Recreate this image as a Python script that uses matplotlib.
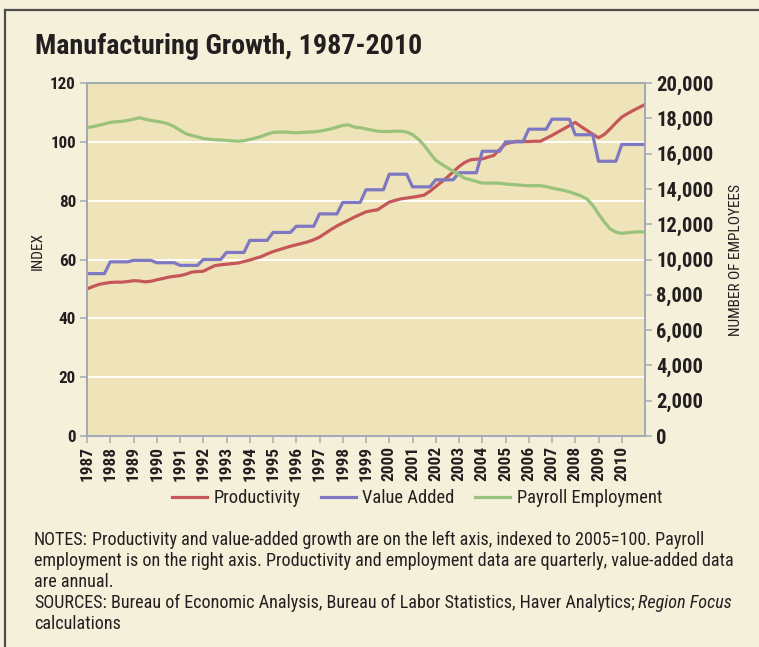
import numpy as np
import matplotlib
matplotlib.use("Agg")
import matplotlib.pyplot as plt
from matplotlib.lines import Line2D
from matplotlib.ticker import FuncFormatter
from matplotlib import font_manager as fm

# ---------------- data ----------------
years = list(range(1987, 2011))
start_year = 1987
quarters_per_year = 4

# Productivity, quarterly 1987Q1 .. 2011Q1 (index, 2005=100)
productivity = [
    50.0, 50.8, 51.5, 51.9,
    52.2, 52.3, 52.3, 52.5,
    52.8, 52.7, 52.4, 52.6,
    53.1, 53.5, 54.0, 54.3,
    54.5, 55.0, 55.7, 55.9,
    56.0, 57.0, 57.9, 58.2,
    58.4, 58.6, 58.8, 59.3,
    59.8, 60.4, 61.0, 61.9,
    62.7, 63.3, 63.9, 64.5,
    65.0, 65.5, 66.0, 66.7,
    67.6, 68.9, 70.2, 71.4,
    72.4, 73.4, 74.4, 75.3,
    76.2, 76.6, 76.9, 78.2,
    79.5, 80.1, 80.6, 80.9,
    81.2, 81.5, 81.9, 83.2,
    84.8, 86.4, 88.0, 89.8,
    91.6, 93.0, 93.9, 94.1,
    94.2, 94.8, 95.4, 97.4,
    99.3, 99.8, 100.2, 100.1,
    100.1, 100.2, 100.2, 101.2,
    102.2, 103.3, 104.4, 105.5,
    106.6, 105.2, 103.9, 102.6,
    101.4, 102.5, 104.4, 106.5,
    108.4, 109.6, 110.7, 111.7,
    112.7,
]

# Value added, annual (index, 2005=100)
value_added_annual = [
    55.2, 59.2, 59.7, 58.9, 58.0, 60.0, 62.4, 66.5, 69.2, 71.3, 75.5, 79.4,
    83.7, 89.0, 84.7, 87.1, 89.5, 96.8, 100.0, 104.3, 107.7, 102.4, 93.4, 99.1,
]

# Payroll employment, quarterly 1987Q1 .. 2011Q1 (thousands)
employment = [
    17470, 17530, 17600, 17680,
    17770, 17800, 17830, 17880,
    17950, 18030, 17950, 17880,
    17830, 17770, 17680, 17530,
    17320, 17130, 17030, 16950,
    16850, 16820, 16780, 16770,
    16750, 16720, 16700, 16730,
    16800, 16880, 16980, 17100,
    17200, 17220, 17220, 17200,
    17180, 17200, 17220, 17230,
    17270, 17330, 17400, 17500,
    17600, 17630, 17500, 17470,
    17400, 17330, 17270, 17250,
    17250, 17270, 17270, 17220,
    17080, 16820, 16470, 16030,
    15620, 15400, 15200, 15000,
    14800, 14600, 14520, 14420,
    14330, 14330, 14330, 14320,
    14280, 14250, 14230, 14200,
    14180, 14180, 14180, 14130,
    14050, 13980, 13920, 13830,
    13720, 13600, 13430, 13080,
    12580, 12130, 11730, 11550,
    11480, 11520, 11550, 11570,
    11550,
]

series_names = ["Productivity", "Value Added", "Payroll Employment"]
left_ticks = [0, 20, 40, 60, 80, 100, 120]
right_ticks = [0, 2000, 4000, 6000, 8000, 10000, 12000, 14000, 16000, 18000, 20000]

title = "Manufacturing Growth, 1987-2010"
left_label = "INDEX"
right_label = "NUMBER OF EMPLOYEES"

# ---------------- font choice ----------------
ttf = fm.fontManager.ttflist
names = {f.name for f in ttf}
stretch = "normal"
family = "DejaVu Sans"
narrow_candidates = ["Liberation Sans Narrow", "Roboto Condensed", "Open Sans Condensed",
                     "Noto Sans Condensed", "DejaVu Sans Condensed"]
found = [n for n in narrow_candidates if n in names]
if found:
    family = found[0]
else:
    cond = [f for f in ttf if ("ondensed" in f.fname or "arrow" in f.fname)]
    if cond:
        family = cond[0].name
        stretch = "condensed"
plt.rcParams["font.family"] = [family, "DejaVu Sans"]
plt.rcParams["font.stretch"] = stretch

C_RED = "#C5575A"
C_PURPLE = "#7E78C3"
C_GREEN = "#99C27B"
C_PANEL = "#F5F0DA"
C_PLOT = "#EFE4B9"
C_AXIS = "#A3AAB3"
C_TEXT = "#231F20"

W, H = 759, 647
fig = plt.figure(figsize=(W / 100, H / 100), dpi=100, facecolor=C_PANEL)
fig.canvas.draw()
renderer = fig.canvas.get_renderer()


def fit(t, target, dim="w"):
    """Scale a text's font size so its rendered width/height matches target px."""
    for _ in range(3):
        bb = t.get_window_extent(renderer)
        cur = bb.width if dim == "w" else bb.height
        if cur > 0:
            t.set_fontsize(t.get_fontsize() * target / cur)
    return t.get_fontsize()


# outer border
fig.add_artist(Line2D([5 / W, 5 / W], [0, 1 - 10 / H], transform=fig.transFigure,
                      color="#4d4d4d", lw=1.6))
fig.add_artist(Line2D([5 / W, 1], [1 - 10 / H, 1 - 10 / H], transform=fig.transFigure,
                      color="#4d4d4d", lw=1.6))

x0, x1, y0, y1 = 87, 645, 83, 436
ax = fig.add_axes([x0 / W, 1 - y1 / H, (x1 - x0) / W, (y1 - y0) / H])
ax.set_facecolor(C_PLOT)
ax2 = ax.twinx()

n_q = len(productivity)
xq = start_year + np.arange(n_q) / quarters_per_year
va_q = np.repeat(value_added_annual, quarters_per_year)
va_q = np.append(va_q, value_added_annual[-1])[:n_q]

lw = 2.3
ax.plot(xq, productivity, color=C_RED, lw=lw, solid_capstyle="round", zorder=3)
ax.plot(xq, va_q, color=C_PURPLE, lw=lw, solid_capstyle="round", zorder=3)
ax2.plot(xq, employment, color=C_GREEN, lw=lw, solid_capstyle="round", zorder=3)

ax.set_xlim(1987, 2011)
ax.set_ylim(0, 120)
ax2.set_ylim(0, 20000)
ax.set_yticks(left_ticks)
ax2.set_yticks(right_ticks)
ax2.yaxis.set_major_formatter(FuncFormatter(lambda v, p: f"{int(v):,}"))
ax.set_xticks(years)
ax.set_xticklabels([str(y) for y in years], rotation=90)

ax.yaxis.grid(True, color="white", lw=1.3)
ax.set_axisbelow(True)

for a in (ax, ax2):
    for s in a.spines.values():
        s.set_color(C_AXIS)
        s.set_linewidth(1.3)
    a.tick_params(colors=C_AXIS, width=1.1, length=5, direction="out")

ax.tick_params(axis="y", labelcolor=C_TEXT, pad=3)
ax.tick_params(axis="x", labelcolor=C_TEXT, pad=2)
ax2.tick_params(axis="y", labelcolor=C_TEXT, pad=3)
for lab in ax.get_yticklabels() + ax2.get_yticklabels() + ax.get_xticklabels():
    lab.set_fontweight("bold")

# size tick labels by measuring a probe
probe = fig.text(0, 0, "120", fontweight="bold", fontsize=12)
fs_y = fit(probe, 26, "w")
probe.remove()
probe = fig.text(0, 0, "20,000", fontweight="bold", fontsize=12)
fs_y2 = fit(probe, 57, "w")
probe.remove()
probe = fig.text(0, 0, "1987", fontweight="bold", fontsize=12)
fs_x = fit(probe, 35, "w")
probe.remove()
ax.tick_params(axis="y", labelsize=fs_y)
ax2.tick_params(axis="y", labelsize=fs_y2)
ax.tick_params(axis="x", labelsize=fs_x)

t = fig.text(38 / W, 1 - 251 / H, left_label, rotation=90, ha="center", va="center",
             fontsize=11, color=C_TEXT)
fit(t, 38, "h")
t = fig.text(736 / W, 1 - 260 / H, right_label, rotation=90, ha="center", va="center",
             fontsize=11, color=C_TEXT)
fit(t, 154, "h")

t = fig.text(35 / W, 1 - 46 / H, title, ha="left", va="center", fontsize=21,
             fontweight="bold", color=C_TEXT)
fit(t, 387, "w")

# legend size
probe = fig.text(0, 0, "Payroll Employment", fontsize=12)
fs_leg = fit(probe, 145, "w")
probe.remove()
handles = [Line2D([], [], color=c, lw=lw) for c in (C_RED, C_PURPLE, C_GREEN)]
fig.legend(handles, series_names, loc="center", bbox_to_anchor=(417 / W, 1 - 498 / H),
           ncol=3, frameon=False, fontsize=fs_leg, handlelength=1.9, handletextpad=0.35,
           columnspacing=1.1, labelcolor=C_TEXT)

# notes
lines = [
    "Productivity and value-added growth are on the left axis, indexed to 2005=100. Payroll",
    "employment is on the right axis. Productivity and employment data are quarterly, value-added data",
    "are annual.",
]
probe = fig.text(0, 0, lines[1], fontsize=12)
fs = fit(probe, 699, "w")
probe.remove()
ys = [540, 561, 582, 603, 624]


def put(xpx, ypx, s, **kw):
    t = fig.text(xpx / W, 1 - ypx / H, s, ha="left", va="center", fontsize=fs,
                 color=C_TEXT, **kw)
    bb = t.get_window_extent(renderer)
    return bb.x1


gap = fs * 0.3
xe = put(34, ys[0], "NOTES:")
put(xe + gap, ys[0], lines[0])
put(34, ys[1], lines[1])
put(34, ys[2], lines[2])
xe = put(34, ys[3], "SOURCES:")
xe = put(xe + gap, ys[3], "Bureau of Economic Analysis, Bureau of Labor Statistics, Haver Analytics;")
put(xe + gap, ys[3], "Region Focus", style="italic")
put(34, ys[4], "calculations")

fig.savefig("out.png", dpi=100, facecolor=C_PANEL)
